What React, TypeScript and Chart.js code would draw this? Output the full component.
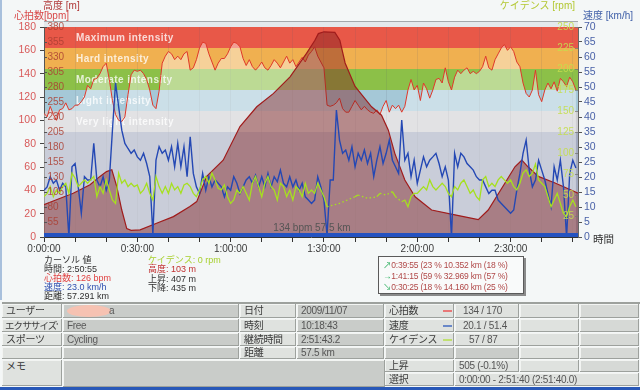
import React, { useEffect, useRef } from 'react';
import { Chart, registerables } from 'chart.js';
Chart.register(...registerables);

// ---- data (sampled once per minute) ----
const SAMPLE_MIN = 1;
const TOTAL_MIN = 171.67;

const hrBpm = [
  106, 103, 112, 105, 100, 109, 110, 115, 109, 110,
  113, 113, 116, 120, 130, 127, 135, 136, 140, 146,
  149, 135, 117, 105, 100, 99, 103, 122, 139, 143,
  142, 143, 140, 135, 126, 113, 110, 125, 149, 155,
  159, 157, 152, 155, 152, 157, 159, 143, 145, 152,
  162, 167, 166, 157, 150, 143, 149, 153, 153, 157,
  163, 167, 166, 163, 153, 147, 152, 146, 143, 146,
  150, 145, 143, 147, 152, 149, 145, 150, 155, 149,
  152, 146, 150, 154, 150, 156, 159, 163, 155, 150,
  145, 113, 112, 113, 115, 119, 110, 107, 107, 112,
  117, 113, 109, 112, 109, 107, 106, 109, 105, 112,
  117, 107, 113, 110, 113, 107, 112, 126, 135, 126,
  130, 117, 132, 127, 119, 126, 135, 136, 132, 145,
  133, 126, 137, 143, 140, 143, 145, 140, 142, 140,
  142, 146, 155, 145, 143, 152, 157, 162, 165, 160,
  163, 159, 150, 146, 132, 123, 120, 126, 143, 122,
  116, 126, 132, 127, 133, 125, 136, 133, 129, 137,
  133, 126,
];

const speedKmh = [
  15.6, 16.7, 20.1, 17.9, 19.0, 15.6, 17.9, 16.7, 0, 23.4,
  24.5, 16.7, 7.9, 20.1, 19, 19, 31.2, 19, 16.7, 20.1,
  15.6, 19, 35.6, 51.4, 43.4, 35.6, 31.2, 29.5, 27.9, 29,
  26.7, 25.6, 27.9, 24.5, 20.1, 1, 25.6, 30.1, 27.9, 29,
  25.6, 30.1, 23.4, 31.2, 23.4, 30.1, 20.1, 33.4, 21.2, 16.7,
  14.5, 21.2, 15.6, 20.1, 16.7, 19, 17.9, 16.7, 13.4, 16.7,
  15.6, 20.1, 17.9, 14.5, 16.7, 19, 20.1, 17.9, 20.6, 16.7,
  20.1, 16.7, 21.2, 16.7, 20.1, 18.4, 22.3, 17.9, 16.7, 20.1,
  16.7, 19, 15.6, 17.9, 13.4, 12.3, 11.2, 12.3, 20.1, 16.7,
  12.3, 0.5, 19, 19, 42.3, 32.3, 27.9, 29, 25.6, 30.1,
  23.4, 27.9, 25.6, 29, 24.5, 27.9, 20.1, 25.6, 30.1, 24.5,
  27.9, 32.3, 25.6, 23.4, 21.2, 39, 25.6, 27.9, 20.1, 25.6,
  17.9, 22.3, 26.7, 23.4, 25.6, 26.7, 27.9, 24.5, 20.1, 23.4,
  19, 0, 27.9, 23.4, 27.9, 26.7, 24.5, 23.4, 22.3, 20.1,
  19, 19, 16.7, 14.5, 15.6, 15.6, 12.3, 11.2, 10.1, 9,
  7.9, 9, 15.6, 21.2, 27.9, 32.3, 22.3, 16.7, 19, 25.6,
  22.3, 19, 14.5, 10.1, 23.4, 19, 25.6, 16.7, 0, 21.2,
  25.6, 23,
];

const cadenceRpm = [
  48, 52, 60, 48, 56, 52, 60, 64, 52, 76,
  70, 60, 64, 68, 64, 68, 72, 48, 60, 52,
  68, 56, 44, 40, 76, 64, 68, 60, 64, 60,
  62, 52, 56, 64, 52, 44, 72, 60, 52, 60,
  52, 64, 56, 60, 52, 62, 64, 60, 52, 48,
  56, 68, 72, 64, 76, 68, 58, 56, 62, 48,
  40, 44, 56, 52, 60, 52, 44, 64, 72, 60,
  48, 64, 72, 60, 56, 44, 64, 60, 48, 56,
  44, 60, 56, 48, 64, 52, 56, 52, 64, 56,
  48, 36, null, null, null, 40, null, null, null, null,
  48, 50, null, null, 46, null, null, 48, 52, null,
  50, null, 54, 48, null, 42, 44, 36, 48, 52,
  52, 56, 60, 56, 68, 60, 56, 60, 64, 60,
  52, 48, 60, 56, 64, 68, 60, 52, 56, 48,
  44, 68, 72, 60, 64, 60, 68, 72, 68, 64,
  68, 60, 56, 64, 76, 80, 72, 76, 87, 68,
  64, 60, 48, 36, 44, 52, 40, 28, 24, 36,
  44, 36,
];

const altTimeMin = [
  0, 4, 9.4, 14.8, 18, 20.1, 21.8, 23.4, 25, 26.6, 28, 30.9, 36.2, 41.6, 46.9, 49.1,
  52.3, 57.6, 63, 68.4, 73.7, 79.1, 84.4, 87.1, 88.2, 90, 93.5, 95.1, 96.8, 100, 105.3,
  108.5, 110.7, 112.8, 116, 119.3, 124.6, 132.1, 139.6, 142.8, 148.2, 151.4, 153.6,
  155.6, 158.9, 164.3, 169.6, 171.67,
];
const altMeters = [
  84, 92, 103, 117, 131, 139, 142, 114, 75, 44, 41, 42, 53, 64, 81, 89,
  131, 158, 214, 247, 269, 297, 336, 358, 369, 372, 371, 358, 320, 281, 247,
  233, 208, 169, 125, 97, 75, 67, 59, 75, 120, 147, 158,
  147, 131, 120, 108, 103,
];

const zoneLimits = [90, 108, 126, 144, 162, 180];
const zoneNames = ['Very light intensity', 'Light intensity', 'Moderate intensity', 'Hard intensity', 'Maximum intensity'];
const zoneColors = ['#cdcdd0', '#a5c8d7', '#8cc048', '#f0b050', '#e85848'];
const BELOW_ZONE = '#a3aabe';

const altTickLabels = [380, 355, 330, 305, 280, 255, 230, 205, 180, 155, 130, 105, 80, 55];
const cadTickLabels = [250, 225, 200, 175, 150, 125, 100, 75, 50, 25];

const fmtTime = (m: number) => `${Math.floor(m / 60)}:${String(Math.round(m % 60)).padStart(2, '0')}:00`;

const zonesPlugin = {
  id: 'zones',
  beforeDraw(chart: any) {
    const { ctx, chartArea } = chart;
    const { left, right, top, bottom } = chartArea;
    const yHr = chart.scales.yHr;
    ctx.save();
    ctx.fillStyle = '#e4e9ec';
    ctx.fillRect(left, top - 5, right - left, 5);
    ctx.strokeStyle = '#a4a8ac';
    ctx.lineWidth = 1;
    ctx.beginPath();
    ctx.moveTo(left, top - 5.5);
    ctx.lineTo(right, top - 5.5);
    ctx.stroke();
    ctx.fillStyle = BELOW_ZONE;
    ctx.fillRect(left, top, right - left, bottom - top);
    for (let i = 0; i < zoneNames.length; i++) {
      const y0 = yHr.getPixelForValue(zoneLimits[i]);
      const y1 = yHr.getPixelForValue(zoneLimits[i + 1]);
      ctx.fillStyle = zoneColors[i];
      ctx.fillRect(left, y1, right - left, y0 - y1);
    }
    ctx.font = 'bold 10px "Liberation Sans"';
    (ctx as any).letterSpacing = '0.45px';
    ctx.textAlign = 'left';
    ctx.textBaseline = 'middle';
    ctx.fillStyle = 'rgba(255,255,255,0.78)';
    for (let i = 0; i < zoneNames.length; i++) {
      const y0 = yHr.getPixelForValue(zoneLimits[i]);
      const y1 = yHr.getPixelForValue(zoneLimits[i + 1]);
      ctx.fillText(zoneNames[i], left + 32, (y0 + y1) / 2 + 0.5);
    }
    ctx.restore();
  },
  afterDatasetsDraw(chart: any) {
    const { ctx, chartArea } = chart;
    const { left, right, bottom } = chartArea;
    const yAlt = chart.scales.yAlt;
    const yCad = chart.scales.yCad;
    ctx.save();
    ctx.fillStyle = '#2452c0';
    ctx.fillRect(left, bottom - 4, right - left, 4);
    ctx.font = '10px "Liberation Sans"';
    ctx.textBaseline = 'middle';
    ctx.textAlign = 'center';
    ctx.fillStyle = '#555555';
    ctx.fillText('134 bpm 57.5 km', (left + right) / 2 + 1, bottom - 9);
    ctx.textAlign = 'left';
    ctx.lineWidth = 1;
    altTickLabels.forEach((v) => {
      const y = Math.round(yAlt.getPixelForValue(v)) + 0.5;
      ctx.strokeStyle = '#555';
      ctx.beginPath();
      ctx.moveTo(left, y);
      ctx.lineTo(left + 3, y);
      ctx.stroke();
      ctx.fillStyle = 'rgba(172,62,50,0.85)';
      ctx.fillText(String(v), left + 3.5, y);
    });
    ctx.textAlign = 'right';
    cadTickLabels.forEach((v) => {
      const y = Math.round(yCad.getPixelForValue(v)) + 0.5;
      ctx.strokeStyle = 'rgba(120,120,120,0.8)';
      ctx.beginPath();
      ctx.moveTo(right - 3, y);
      ctx.lineTo(right, y);
      ctx.stroke();
      ctx.fillStyle = 'rgba(196,222,78,0.9)';
      ctx.fillText(String(v), right - 4, y);
    });
    ctx.restore();
  },
};

const Txt = ({ x, cy, size = 10, color = '#303030', children, right, ls }: any) => (
  <div
    style={{
      position: 'absolute',
      left: right === undefined ? x : undefined,
      right: right,
      top: cy - size / 2 - 1,
      fontSize: size,
      lineHeight: `${size + 2}px`,
      color,
      whiteSpace: 'nowrap',
      letterSpacing: ls,
    }}
  >
    {children}
  </div>
);

const rowY = [304, 319, 333, 347, 360, 373, 387];
const colX = [2, 63, 240, 297, 385, 455, 520, 580, 640];
const LIGHT = '#dfe2df';
const GRAY = '#c9ccc9';

const Cell = ({ c0, c1, r0, r1, bg, children, pad = 4, color = '#3a3a3a', ls = '-0.3px', fs = 10 }: any) => (
  <div
    style={{
      position: 'absolute',
      left: colX[c0],
      top: rowY[r0],
      width: colX[c1] - colX[c0] - 1,
      height: rowY[r1] - rowY[r0] - 1,
      background: bg,
      borderRight: '1px solid #9da19d',
      borderBottom: '1px solid #9da19d',
      boxShadow: 'inset 1px 1px 0 #f2f4f2',
      fontSize: fs,
      letterSpacing: ls,
      lineHeight: `${rowY[r0 + 1] - rowY[r0] - 1}px`,
      paddingLeft: pad,
      boxSizing: 'border-box',
      color,
      whiteSpace: 'nowrap',
      overflow: 'hidden',
    }}
  >
    {children}
  </div>
);

const Dash = ({ color }: any) => (
  <span style={{ position: 'absolute', left: 58, top: 6, width: 9, height: 2, background: color }} />
);

export default function App() {
  const ref = useRef<HTMLCanvasElement>(null);
  useEffect(() => {
    const hrPts = hrBpm.map((v, i) => ({ x: i * SAMPLE_MIN, y: v }));
    const spdPts = speedKmh.map((v, i) => ({ x: i * SAMPLE_MIN, y: v }));
    const cadPts = cadenceRpm.map((v, i) => ({ x: i * SAMPLE_MIN, y: v }));
    const altPts = altTimeMin.map((t, i) => ({ x: t, y: altMeters[i] }));
    const skipped = (ctx: any, value: any) => (ctx.p0.skip || ctx.p1.skip ? value : undefined);
    const chart = new Chart(ref.current as HTMLCanvasElement, {
      type: 'line',
      data: {
        datasets: [
          {
            label: 'ケイデンス',
            data: cadPts,
            yAxisID: 'yCad',
            borderColor: '#a6e01e',
            borderWidth: 1.3,
            pointRadius: 0,
            fill: false,
            spanGaps: true,
            segment: { borderDash: (c: any) => skipped(c, [1.5, 2.5]) },
            order: 1,
          },
          {
            label: '速度',
            data: spdPts,
            yAxisID: 'ySpd',
            borderColor: '#2448b4',
            borderWidth: 1.4,
            pointRadius: 0,
            fill: false,
            order: 2,
          },
          {
            label: '高度',
            data: altPts,
            yAxisID: 'yAlt',
            borderColor: '#a01c1c',
            borderWidth: 1.2,
            backgroundColor: 'rgba(128,32,32,0.45)',
            pointRadius: 0,
            fill: 'start',
            order: 3,
          },
          {
            label: '心拍数',
            data: hrPts,
            yAxisID: 'yHr',
            borderColor: '#e0382a',
            borderWidth: 1,
            backgroundColor: 'rgba(255,255,255,0.42)',
            pointRadius: 0,
            fill: 'origin',
            order: 4,
          },
        ],
      } as any,
      options: {
        animation: false,
        responsive: false,
        maintainAspectRatio: false,
        layout: { padding: { top: 27, left: 0, right: 0, bottom: 0 } },
        plugins: { legend: { display: false }, tooltip: { enabled: false } },
        elements: { line: { tension: 0 }, point: { radius: 0 } },
        scales: {
          x: {
            type: 'linear',
            min: 0,
            max: TOTAL_MIN,
            grid: { color: 'rgba(90,90,110,0.13)', tickColor: '#333', tickLength: 5, drawOnChartArea: true },
            border: { color: '#333', width: 1 },
            ticks: {
              stepSize: 10,
              includeBounds: false,
              autoSkip: false,
              maxRotation: 0,
              padding: 1,
              color: '#3a3a3a',
              font: { family: 'Liberation Sans', size: 10 },
              callback: (v: any) => (Number(v) % 30 === 0 ? fmtTime(Number(v)) : ''),
            },
            afterFit: (s: any) => { s.height = 63; },
          },
          yHr: {
            position: 'left',
            min: 0,
            max: 180,
            grid: { drawOnChartArea: false, tickColor: '#444', tickLength: 4 },
            border: { color: '#555' },
            ticks: { stepSize: 20, autoSkip: false, padding: 4, color: '#d85a5a', font: { family: 'Liberation Sans', size: 10.5 } },
            afterFit: (s: any) => { s.width = 44; },
          },
          yAlt: { display: false, min: 30, max: 380 },
          yCad: { display: false, min: 0, max: 250 },
          ySpd: {
            position: 'right',
            min: 0,
            max: 70,
            grid: { drawOnChartArea: false, tickColor: '#555', tickLength: 4 },
            border: { color: '#666' },
            ticks: { stepSize: 5, autoSkip: false, padding: 2, color: '#4a62a8', font: { family: 'Liberation Sans', size: 10.5 } },
            afterFit: (s: any) => { s.width = 62; },
          },
        },
      } as any,
      plugins: [zonesPlugin],
    });
    return () => chart.destroy();
  }, []);

  const f9 = 9;
  const lapFs = 8.5;
  return (
    <div
      style={{
        position: 'absolute',
        left: 0,
        top: 0,
        width: 640,
        height: 390,
        background: '#f4f7f7',
        overflow: 'hidden',
        fontFamily: '"Liberation Sans", "Noto Sans CJK JP", sans-serif',
      }}
    >
      <canvas ref={ref} width={640} height={300} style={{ position: 'absolute', left: 0, top: 0, width: 640, height: 300 }} />
      <div style={{ position: 'absolute', left: 0, top: 0, width: 2, height: 300, background: '#a8c0dc' }} />

      <Txt x={43} cy={5.5} size={10} color="#b03838">高度 [m]</Txt>
      <Txt x={14} cy={15.5} size={10} color="#d84848">心拍数[bpm]</Txt>
      <Txt right={65} cy={5.5} size={10} color="#b4c834">ケイデンス [rpm]</Txt>
      <Txt x={583} cy={15.5} size={10} color="#4060a8">速度 [km/h]</Txt>
      <Txt x={593} cy={239} size={10.5} color="#303030">時間</Txt>

      <Txt x={44} cy={260} size={f9} color="#303030">カーソル 値</Txt>
      <Txt x={44} cy={269} size={f9} color="#303030">時間: 2:50:55</Txt>
      <Txt x={44} cy={278.5} size={f9} color="#e04040">心拍数: 126 bpm</Txt>
      <Txt x={44} cy={287.5} size={f9} color="#3050b0">速度: 23.0 km/h</Txt>
      <Txt x={44} cy={296} size={f9} color="#303030">距離: 57.291 km</Txt>

      <Txt x={148} cy={260} size={f9} color="#a8d030">ケイデンス: 0 rpm</Txt>
      <Txt x={148} cy={269.5} size={f9} color="#c03030">高度: 103 m</Txt>
      <Txt x={148} cy={279} size={f9} color="#303030">上昇: 407 m</Txt>
      <Txt x={148} cy={288.5} size={f9} color="#303030">下降: 435 m</Txt>

      <div
        style={{
          position: 'absolute',
          left: 378,
          top: 256,
          width: 144,
          height: 36,
          border: '1px solid #5a5a5a',
          background: '#f9fafa',
          boxShadow: '2px 2px 0 #8a8a8a',
        }}
      />
      <Txt x={383} cy={265} size={lapFs} ls="-0.2px" color="#b04848"><span style={{ color: '#30b060' }}>↗</span>0:39:55 (23 % 10.352 km (18 %)</Txt>
      <Txt x={383} cy={276} size={lapFs} ls="-0.2px" color="#b04848"><span style={{ color: '#30b060' }}>→</span>1:41:15 (59 % 32.969 km (57 %)</Txt>
      <Txt x={383} cy={287} size={lapFs} ls="-0.2px" color="#b04848"><span style={{ color: '#30b060' }}>↘</span>0:30:25 (18 % 14.160 km (25 %)</Txt>

      <div style={{ position: 'absolute', left: 2, top: 302, width: 638, height: 2, background: '#9da19d' }} />
      <Cell c0={0} c1={1} r0={0} r1={1} bg={LIGHT}>ユーザー</Cell>
      <Cell c0={1} c1={2} r0={0} r1={1} bg={GRAY} color="#5a5a5a">
        <span style={{ position: 'absolute', left: 4, top: 1, width: 44, height: 12, borderRadius: '50%', background: '#f6c2b2' }} />
        <span style={{ position: 'absolute', left: 46 }}>a</span>
      </Cell>
      <Cell c0={2} c1={3} r0={0} r1={1} bg={LIGHT}>日付</Cell>
      <Cell c0={3} c1={4} r0={0} r1={1} bg={GRAY} color="#555">2009/11/07</Cell>
      <Cell c0={4} c1={5} r0={0} r1={1} bg={LIGHT}>心拍数<Dash color="#e87878" /></Cell>
      <Cell c0={5} c1={6} r0={0} r1={1} bg={LIGHT} pad={8} color="#555">134 / 170</Cell>
      <Cell c0={6} c1={7} r0={0} r1={1} bg={LIGHT} />
      <Cell c0={7} c1={8} r0={0} r1={1} bg="#d6d9d6" />

      <Cell c0={0} c1={1} r0={1} r1={2} bg={LIGHT} fs={9.5} ls="-0.9px" pad={3}>エクササイズ'</Cell>
      <Cell c0={1} c1={2} r0={1} r1={2} bg={GRAY} color="#5a5a5a">Free</Cell>
      <Cell c0={2} c1={3} r0={1} r1={2} bg={LIGHT}>時刻</Cell>
      <Cell c0={3} c1={4} r0={1} r1={2} bg={GRAY} color="#555">10:18:43</Cell>
      <Cell c0={4} c1={5} r0={1} r1={2} bg={LIGHT}>速度<Dash color="#6a88c8" /></Cell>
      <Cell c0={5} c1={6} r0={1} r1={2} bg={LIGHT} pad={8} color="#555">20.1 / 51.4</Cell>
      <Cell c0={6} c1={7} r0={1} r1={2} bg={LIGHT} />
      <Cell c0={7} c1={8} r0={1} r1={2} bg="#d6d9d6" />

      <Cell c0={0} c1={1} r0={2} r1={3} bg={LIGHT}>スポーツ</Cell>
      <Cell c0={1} c1={2} r0={2} r1={3} bg={GRAY} color="#5a5a5a">Cycling</Cell>
      <Cell c0={2} c1={3} r0={2} r1={3} bg={LIGHT}>継続時間</Cell>
      <Cell c0={3} c1={4} r0={2} r1={3} bg={GRAY} color="#555">2:51:43.2</Cell>
      <Cell c0={4} c1={5} r0={2} r1={3} bg={LIGHT}>ケイデンス<Dash color="#c0e070" /></Cell>
      <Cell c0={5} c1={6} r0={2} r1={3} bg={LIGHT} pad={14} color="#555">57 / 87</Cell>
      <Cell c0={6} c1={7} r0={2} r1={3} bg={LIGHT} />
      <Cell c0={7} c1={8} r0={2} r1={3} bg="#d6d9d6" />

      <Cell c0={0} c1={1} r0={3} r1={4} bg={LIGHT} />
      <Cell c0={1} c1={2} r0={3} r1={4} bg={GRAY} />
      <Cell c0={2} c1={3} r0={3} r1={4} bg={LIGHT}>距離</Cell>
      <Cell c0={3} c1={4} r0={3} r1={4} bg={GRAY} color="#555">57.5 km</Cell>
      <Cell c0={4} c1={5} r0={3} r1={4} bg={GRAY} />
      <Cell c0={5} c1={6} r0={3} r1={4} bg={GRAY} />
      <Cell c0={6} c1={7} r0={3} r1={4} bg={LIGHT} />
      <Cell c0={7} c1={8} r0={3} r1={4} bg="#d6d9d6" />

      <div
        style={{
          position: 'absolute', left: colX[0], top: rowY[4], width: colX[1] - colX[0] - 1, height: rowY[6] - rowY[4] - 1,
          background: LIGHT, borderRight: '1px solid #9da19d', borderBottom: '1px solid #9da19d', boxShadow: 'inset 1px 1px 0 #f2f4f2',
          fontSize: 10, lineHeight: '13px', paddingLeft: 4, boxSizing: 'border-box', color: '#3a3a3a',
        }}
      >
        メモ
      </div>
      <div
        style={{
          position: 'absolute', left: colX[1], top: rowY[4], width: colX[4] - colX[1] - 1, height: rowY[6] - rowY[4] - 1,
          background: GRAY, borderRight: '1px solid #9da19d', borderBottom: '1px solid #9da19d', boxShadow: 'inset 1px 1px 0 #f2f4f2',
        }}
      />
      <Cell c0={4} c1={5} r0={4} r1={5} bg={LIGHT}>上昇</Cell>
      <Cell c0={5} c1={6} r0={4} r1={5} bg={LIGHT} color="#555">505 (-0.1%)</Cell>
      <Cell c0={6} c1={7} r0={4} r1={5} bg={LIGHT} />
      <Cell c0={7} c1={8} r0={4} r1={5} bg="#d6d9d6" />
      <Cell c0={4} c1={5} r0={5} r1={6} bg={LIGHT}>選択</Cell>
      <Cell c0={5} c1={8} r0={5} r1={6} bg={LIGHT} color="#555">0:00:00 - 2:51:40 (2:51:40.0)</Cell>

      <div style={{ position: 'absolute', left: 0, top: 387, width: 640, height: 3, background: '#2858b8' }} />
    </div>
  );
}
